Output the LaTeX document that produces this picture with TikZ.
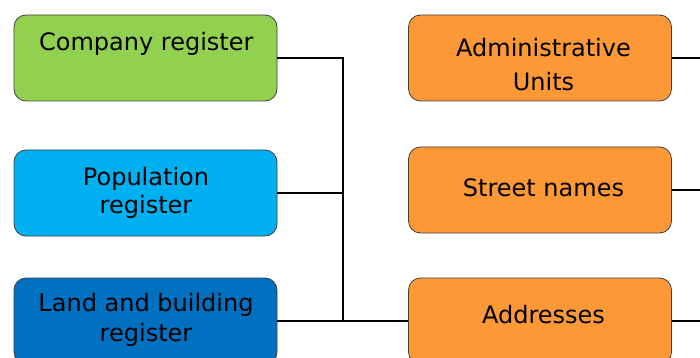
\documentclass[tikz,border=0pt]{standalone}
\usepackage{fontspec}
\setmainfont{DejaVu Sans}
\usepackage{xcolor}
\usepackage{tikz}
\usetikzlibrary{positioning}

\definecolor{regGreen}{HTML}{92D050}
\definecolor{regLightBlue}{HTML}{00B0F0}
\definecolor{regDarkBlue}{HTML}{0070C0}
\definecolor{regOrange}{RGB}{253,152,55}

\begin{document}
\begin{tikzpicture}[x=1pt, y=-1pt,
    regbox/.style={draw=black!75, line width=0.8pt, rounded corners=12pt,
        minimum width=263pt, minimum height=86pt, inner sep=0pt},
    boxtext/.style={font=\fontsize{24}{28.3}\selectfont, align=center, inner sep=0pt},
    link/.style={line width=1.2pt}]
    \useasboundingbox (0,0) rectangle (700,358);

    % 左侧登记簿
    \node[regbox, fill=regGreen] (company) at (145.5,58) {};
    \node[regbox, fill=regLightBlue] (population) at (145.5,193) {};
    \node[regbox, fill=regDarkBlue] (land) at (145.5,321) {};
    \node[boxtext] (company-text) at (146.3,43.6) {Company register};
    \node[boxtext] (population-text) at (146,192.8) {Population\\register};
    \node[boxtext] (land-text) at (146,320.3) {Land and building\\[1.7pt]register};

    % 右侧地址数据
    \node[regbox, fill=regOrange] (admin) at (540,58) {};
    \node[regbox, fill=regOrange] (street) at (540,190) {};
    \node[regbox, fill=regOrange] (addr) at (540,321) {};
    \node[boxtext] (admin-text) at (543.5,64.5) {Administrative\\[5.7pt]Units};
    \node[boxtext] (street-text) at (543.5,188.1) {Street names};
    \node[boxtext] (addr-text) at (543.5,314.3) {Addresses};

    % 连线
    \coordinate (hub) at (343,321);
    \draw[link] (company.east) -| (hub) -- (addr.west);
    \draw[link] (population.east) -| (hub);
    \draw[link] (land.east) -- (addr.west);

    % 右侧出线
    \coordinate (admin-out) at (700,58);
    \coordinate (street-out) at (700,190);
    \coordinate (addr-out) at (700,321);
    \draw[link] (admin.east) -- (admin-out);
    \draw[link] (street.east) -- (street-out);
    \draw[link] (addr.east) -- (addr-out);
\end{tikzpicture}
\end{document}
